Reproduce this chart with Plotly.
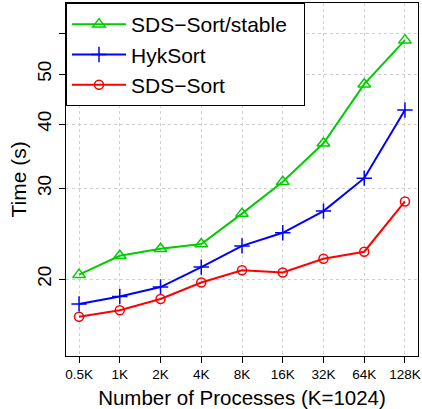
import plotly.graph_objects as go

categories = ["0.5K", "1K", "2K", "4K", "8K", "16K", "32K", "64K", "128K"]
stable = [20.4, 22.2, 22.9, 23.4, 26.8, 30.9, 36.7, 47.8, 58.2]
hyksort = [17.9, 18.5, 19.3, 21.1, 23.2, 24.6, 27.1, 31.4, 42.6]
sdssort = [16.9, 17.4, 18.3, 19.7, 20.8, 20.6, 21.9, 22.6, 28.3]
y_ticks = [20, 30, 40, 50, 60]
y_ticktext = ["20", "30", "40", "50", ""]

FONT = "Liberation Sans, Arial, sans-serif"
NB = "\u00a0"

fig = go.Figure()
series = [
    ("SDS\u2212Sort/stable" + NB * 2, stable, "#00CC00", "triangle-up-open", 11),
    ("HykSort", hyksort, "#0000FF", "cross-thin-open", 11),
    ("SDS\u2212Sort", sdssort, "#FF0000", "circle-open", 9),
]
for name, vals, color, sym, size in series:
    fig.add_trace(go.Scatter(
        x=categories, y=vals, name=name, mode="lines+markers",
        line=dict(color=color, width=2),
        marker=dict(symbol=sym, size=size, color=color, line=dict(color=color, width=1.5)),
    ))

PLOT_W = 422 - 66 - 4
fig.update_layout(
    width=422, height=409,
    margin=dict(l=66, r=4, t=3, b=53),
    plot_bgcolor="white", paper_bgcolor="white",
    font=dict(family=FONT, color="black"),
    showlegend=True,
    legend=dict(
        x=0, y=1, xanchor="left", yanchor="top",
        bgcolor="white", bordercolor="black", borderwidth=1,
        font=dict(size=21, family=FONT, color="black"),
        itemwidth=54,
    ),
    annotations=[dict(
        text="Time (s)", xref="paper", yref="paper",
        x=(18 - 66) / PLOT_W, y=0.5, xanchor="center", yanchor="middle",
        textangle=-90, showarrow=False, font=dict(size=21, family=FONT, color="black"),
    )],
)
fig.update_xaxes(
    type="category", range=[-0.32, 8.32], automargin=False,
    showline=True, linecolor="black", linewidth=1, mirror=True,
    ticks="outside", ticklen=6, tickcolor="black",
    showgrid=True, gridcolor="#cfcfcf", griddash="dot", gridwidth=1,
    tickfont=dict(size=13.5, family=FONT),
    title=dict(text="Number of Processes (K=1024)", font=dict(size=20.5, family=FONT)),
)
fig.update_yaxes(
    type="log", range=[1.1517, 1.837], automargin=False,
    tickvals=y_ticks, ticktext=y_ticktext, tickangle=-90,
    showline=True, linecolor="black", linewidth=1, mirror=True,
    ticks="outside", ticklen=6, tickcolor="black",
    showgrid=True, gridcolor="#cfcfcf", griddash="dot", gridwidth=1,
    tickfont=dict(size=19, family=FONT),
)
fig.write_html(
    "out.html",
    config={"displayModeBar": False},
    post_script="document.body.style.margin='0';document.body.style.overflow='hidden';",
)
